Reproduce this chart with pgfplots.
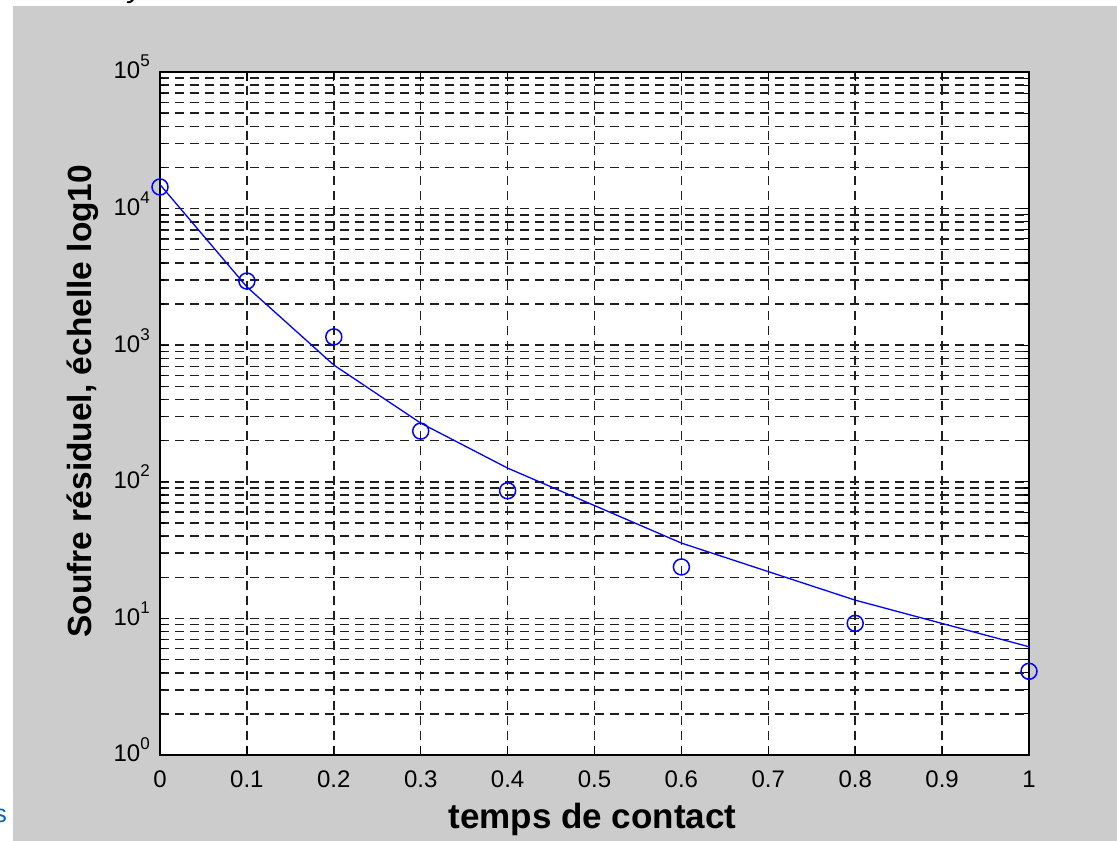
\documentclass[border=0pt]{standalone}
\usepackage{fontspec}
\setmainfont{Liberation Sans}
\usepackage{pgfplots}
\pgfplotsset{compat=1.18}

\definecolor{figgray}{RGB}{204,204,204}
\definecolor{linkblue}{RGB}{0,102,204}
\definecolor{gridblack}{RGB}{30,30,30}

\newcommand{\ex}[1]{10\raisebox{12pt}{\fontsize{17}{17}\selectfont #1}}

\begin{document}
\begin{tikzpicture}
  \path[use as bounding box] (0pt,0pt) rectangle (1117pt,841pt);
  % page background: white strips top and left, gray figure
  \fill[white] (0pt,0pt) rectangle (1117pt,841pt);
  \fill[figgray] (13pt,0pt) rectangle (1117pt,835pt);
  \begin{scope}
    \clip (0pt,835pt) rectangle (1117pt,841pt);
    \node[anchor=base, inner sep=0pt, font=\fontsize{30}{34}\selectfont\itshape] at (136pt,843pt) {y};
  \end{scope}
  \node[anchor=base east, inner sep=0pt, text=linkblue, font=\fontsize{25}{28}\selectfont] at (7pt,18pt) {s};

  \begin{axis}[
    at={(160pt,86pt)}, anchor=south west,
    scale only axis,
    width=869pt, height=683pt,
    axis background/.style={fill=white},
    clip=false,
    xmin=0, xmax=1,
    ymode=log, ymin=1, ymax=1e5,
    xtick={0,0.1,0.2,0.3,0.4,0.5,0.6,0.7,0.8,0.9,1},
    xticklabels={0,0.1,0.2,0.3,0.4,0.5,0.6,0.7,0.8,0.9,1},
    ytick={1,10,100,1000,10000,100000},
    yticklabels={\ex{0},\ex{1},\ex{2},\ex{3},\ex{4},\ex{5}},
    tick align=inside,
    major tick length=9pt, minor tick length=5pt,
    every tick/.style={black, line width=1.2pt},
    axis line style={black, line width=1.6pt},
    xmajorgrids=true, ymajorgrids=true, yminorgrids=true,
    major grid style={gridblack, line width=1.5pt, dash pattern=on 9pt off 6pt},
    minor grid style={gridblack, line width=1.5pt, dash pattern=on 9pt off 6pt},
    xticklabel style={font=\fontsize{24}{28}\selectfont, inner sep=0pt, anchor=base, yshift=-32pt},
    yticklabel style={font=\fontsize{24}{28}\selectfont, inner sep=0pt, anchor=base east, xshift=-10pt, yshift=-7pt},
    xlabel={temps de contact},
    ylabel={Soufre résiduel, échelle log10},
    xlabel style={font=\fontsize{35}{40}\selectfont\bfseries, at={(axis description cs:0.4977,-0.107)}, anchor=base, inner sep=0pt},
    ylabel style={font=\fontsize{33.5}{38}\selectfont\bfseries, at={(axis description cs:-0.0703,0.518)}, anchor=south, inner sep=0pt},
  ]
    % fitted curve
    \addplot[blue, line width=1.3pt, mark=none] coordinates {
      (0,15000) (0.1,2670) (0.2,716) (0.3,269) (0.4,126)
      (0.6,35.6) (0.8,13.6) (1.0,6.2)
    };
    % measurements
    \addplot[blue, only marks, mark=o, mark size=8pt, mark options={line width=1.5pt}] coordinates {
      (0,14400) (0.1,2950) (0.2,1150) (0.3,235) (0.4,86)
      (0.6,23.8) (0.8,9.2) (1.0,4.1)
    };
  \end{axis}
\end{tikzpicture}
\end{document}
